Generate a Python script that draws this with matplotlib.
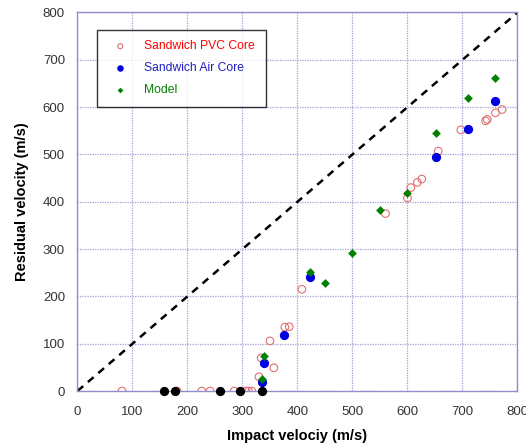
import matplotlib
matplotlib.use("Agg")
import matplotlib.pyplot as plt

plt.rcParams['font.family'] = ['Liberation Sans', 'DejaVu Sans']

# Sandwich PVC Core (open red circles)
pvc_x = [81, 181, 226, 241, 285, 306, 311, 317, 330, 334, 350, 357, 377, 385,
         408, 560, 600, 606, 618, 626, 656, 697, 742, 745, 760, 772]
pvc_y = [0, 0, 0, 0, 0, 0, 0, 0, 30, 70, 106, 49, 135, 136,
         215, 375, 408, 430, 441, 448, 507, 552, 571, 574, 588, 595]

# Sandwich Air Core (filled blue circles)
air_x = [335, 340, 375, 423, 651, 710, 760]
air_y = [20, 59, 118, 241, 494, 553, 612]

# Model (green diamonds)
model_x = [335, 340, 423, 450, 500, 550, 600, 651, 710, 760]
model_y = [25, 73, 252, 228, 291, 382, 418, 546, 620, 662]

# Non-perforation points (black)
stop_x = [158, 178, 260, 296, 335]
stop_y = [0, 0, 0, 0, 0]

diag = [0, 800]

fig = plt.figure(figsize=(5.26, 4.48), dpi=100)
ax = fig.add_axes([0.1473, 0.1272, 0.8365, 0.8449])

grid_c = '#a0a0d8'
ax.set_xlim(0, 800)
ax.set_ylim(0, 800)
ax.set_xticks(range(0, 801, 100))
ax.set_yticks(range(0, 801, 100))
ax.grid(True, color=grid_c, linestyle=(0, (1, 1)), linewidth=0.9)
ax.set_axisbelow(True)
for s in ax.spines.values():
    s.set_color('#9090d0')
    s.set_linewidth(1.0)
ax.tick_params(axis='x', length=0, labelsize=9.5, pad=11, labelcolor='#333333')
ax.tick_params(axis='y', length=0, labelsize=9.5, pad=9, labelcolor='#333333')

ax.plot(diag, diag, color='black', linestyle=(0, (3, 2.5)), linewidth=1.8, zorder=2)

h1 = ax.scatter(pvc_x, pvc_y, s=30, facecolors='none', edgecolors='#e07070',
                linewidths=0.8, zorder=3, label='Sandwich PVC Core')
h2 = ax.scatter(air_x, air_y, s=32, color='#0000e0', zorder=4, label='Sandwich Air Core')
h3 = ax.scatter(model_x, model_y, s=20, marker='D', color='#008000', zorder=5,
                label='Model', linewidths=0)
ax.scatter(stop_x, stop_y, s=32, color='black', zorder=6, clip_on=False)

ax.set_xlabel('Impact velociy (m/s)', fontsize=10.5, fontweight='bold', labelpad=8)
ax.set_ylabel('Residual velocity (m/s)', fontsize=10.5, fontweight='bold', labelpad=10)

leg = ax.legend(handles=[h1, h2, h3], loc='upper left', bbox_to_anchor=(0.045, 0.955),
                frameon=True, fancybox=False, edgecolor='black', fontsize=8.7,
                borderpad=0.9, labelspacing=0.8, handletextpad=1.0, borderaxespad=0,
                markerscale=0.65)
leg.get_frame().set_linewidth(1.0)
for t, c in zip(leg.get_texts(), ['#ff0000', '#2020c0', '#008000']):
    t.set_color(c)

fig.savefig('out.png', dpi=100)
